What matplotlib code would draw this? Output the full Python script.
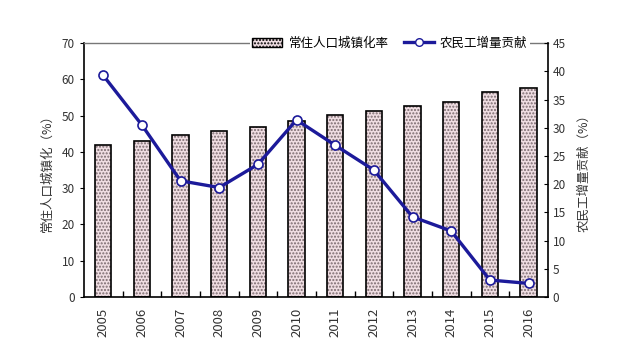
import matplotlib
matplotlib.use('Agg')
import matplotlib.pyplot as plt
import numpy as np
from matplotlib.patches import Patch
from matplotlib.lines import Line2D

plt.rcParams['font.family'] = ['Noto Sans CJK SC', 'DejaVu Sans']

years = ['2005', '2006', '2007', '2008', '2009', '2010',
         '2011', '2012', '2013', '2014', '2015', '2016']
urban_rate = [41.9, 43.1, 44.6, 45.8, 46.9, 48.6, 50.1, 51.3, 52.8, 53.7, 56.5, 57.5]
migrant_contrib = [39.3, 30.5, 20.6, 19.4, 23.5, 31.4, 26.9, 22.5, 14.2, 11.7, 3.0, 2.4]

bar_label = '常住人口城镇化率'
line_label = '农民工增量贡献'
ylabel_left = '常住人口城镇化（%）'
ylabel_right = '农民工增量贡献（%）'

line_col = '#1c1a9a'
bar_face = '#efdde2'
dot_col = '#7a6a6e'

fig = plt.figure(figsize=(6.4, 3.51), dpi=100)
ax = fig.add_axes([0.131, 0.154, 0.725, 0.723])
x = np.arange(len(years))

# hatched fill first, black outline on top
ax.bar(x, urban_rate, width=0.43, color=bar_face, edgecolor=dot_col,
       hatch='.....', linewidth=0, zorder=2)
ax.bar(x, urban_rate, width=0.43, fill=False, edgecolor='black',
       linewidth=1.2, zorder=3)

ax.set_xlim(-0.5, len(years) - 0.5)
ax.set_ylim(0, 70)
ax.set_yticks(np.arange(0, 71, 10))
ax.set_xticks(x)
ax.set_xticklabels(years, rotation=90, fontsize=9.5, color='#333333')
ax.tick_params(axis='x', length=0, pad=8)
ax.set_xticks(np.arange(0.5, len(years) - 0.5, 1), minor=True)
ax.tick_params(axis='x', which='minor', direction='in', length=4, width=1)
ax.tick_params(axis='y', direction='out', length=3, labelsize=8.5, labelcolor='#333333')
ax.set_ylabel(ylabel_left, fontsize=9, color='#333333', labelpad=6)

for s in ['left', 'bottom']:
    ax.spines[s].set_color('black')
    ax.spines[s].set_linewidth(1.2)
ax.spines['top'].set_color('#777777')
ax.spines['top'].set_linewidth(1.0)
ax.spines['right'].set_visible(False)

ax2 = ax.twinx()
ax2.plot(x, migrant_contrib, color=line_col, linewidth=2.4, marker='o',
         markersize=6.5, markerfacecolor='white', markeredgecolor=line_col,
         markeredgewidth=1.2, zorder=4)
ax2.set_ylim(0, 45)
ax2.set_yticks(np.arange(0, 46, 5))
ax2.tick_params(axis='y', direction='in', length=3, labelsize=8.5, labelcolor='#333333')
ax2.set_ylabel(ylabel_right, fontsize=9, color='#333333', labelpad=8)
ax2.spines['right'].set_color('black')
ax2.spines['right'].set_linewidth(1.2)
for s in ['left', 'top', 'bottom']:
    ax2.spines[s].set_visible(False)

handles = [Patch(facecolor=bar_face, edgecolor='black', hatch='.....', linewidth=1),
           Line2D([], [], color=line_col, linewidth=2.4, marker='o', markersize=5.5,
                  markerfacecolor='white', markeredgecolor=line_col)]
leg = ax2.legend(handles, [bar_label, line_label], ncol=2, loc='center right',
                 bbox_to_anchor=(0.975, 1.0), fontsize=9, frameon=True,
                 fancybox=False, edgecolor='none', facecolor='white', framealpha=1,
                 handlelength=2.4, handletextpad=0.5, columnspacing=1.2,
                 borderpad=0.2)

fig.savefig('out.png', dpi=100)
